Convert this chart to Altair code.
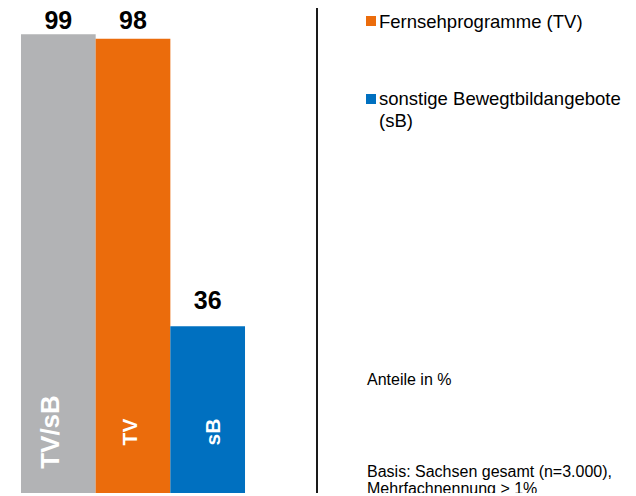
import altair as alt
import pandas as pd

categories = ["TV/sB", "TV", "sB"]
values = [99, 98, 36]
bar_colors = ["#B2B3B5", "#EB6C0C", "#0070C0"]

legend_labels = ["Fernsehprogramme (TV)", "sonstige Bewegtbildangebote\n(sB)"]
legend_colors = ["#EB6C0C", "#0070C0"]
note_unit = "Anteile in %"
note_basis = "Basis: Sachsen gesamt (n=3.000),\nMehrfachnennung > 1%"

FONT = "Liberation Sans, Arial, sans-serif"

df = pd.DataFrame({"cat": categories, "val": values, "color": bar_colors})

xscale = alt.Scale(domain=categories, range=[13, 237], paddingInner=0, paddingOuter=0)
yscale = alt.Scale(domain=[0, 104.64], nice=False, zero=True)

base = alt.Chart(df).encode(
    x=alt.X("cat:N", sort=categories, scale=xscale, axis=None),
)

bars = base.mark_bar(size=74.7).encode(
    y=alt.Y("val:Q", scale=yscale, axis=None),
    color=alt.Color("color:N", scale=None),
)

vals = base.transform_calculate(
    ly="min(datum.val + 3.7, 100.1)"
).mark_text(font=FONT, fontWeight="bold", fontSize=25, baseline="alphabetic", align="center", color="#000000").encode(
    y=alt.Y("ly:Q", scale=yscale, axis=None),
    text=alt.Text("val:Q"),
)


def inner(cat, size, shift):
    return base.transform_filter(alt.datum.cat == cat).mark_text(
        font=FONT, fontWeight="bold", fontSize=size, angle=270, align="center",
        baseline="middle", color="white", dy=shift
    ).encode(y=alt.value(424), text="cat:N")


inner_labels = [inner("TV/sB", 26, -7), inner("TV", 21, -2), inner("sB", 21, 6)]

divider = alt.Chart(df.head(1)).mark_rule(color="#1a1a1a", strokeWidth=2).encode(
    x=alt.value(309), y=alt.value(-10), y2=alt.value(500)
)

leg_df = pd.DataFrame({"label": legend_labels, "color": legend_colors, "i": [0, 1]})

leg_sq = alt.Chart(leg_df).mark_square(size=100, opacity=1).encode(
    x=alt.value(363),
    y=alt.Y("i:Q", scale=alt.Scale(domain=[0, 1], range=[13, 91], zero=False, nice=False), axis=None),
    color=alt.Color("color:N", scale=None),
)

leg_txt = alt.Chart(leg_df).mark_text(
    font=FONT, fontSize=18.5, align="left", baseline="alphabetic", lineBreak="\n", lineHeight=22, color="#000000"
).encode(
    x=alt.value(371),
    y=alt.Y("i:Q", scale=alt.Scale(domain=[0, 1], range=[20, 97], zero=False, nice=False), axis=None),
    text="label:N",
)

notes_df = pd.DataFrame({"t": [note_unit, note_basis], "j": [0, 1]})
notes = alt.Chart(notes_df).mark_text(
    font=FONT, fontSize=16, align="left", baseline="alphabetic", lineBreak="\n", lineHeight=17, color="#000000"
).encode(
    x=alt.value(359),
    y=alt.Y("j:Q", scale=alt.Scale(domain=[0, 1], range=[377, 469], zero=False, nice=False), axis=None),
    text="t:N",
)

chart = alt.layer(bars, vals, *inner_labels, divider, leg_sq, leg_txt, notes).resolve_scale(
    y="independent", x="independent", color="independent"
).properties(
    width=620, height=485, padding=0, autosize=alt.AutoSizeParams(type="none")
).configure_view(stroke=None)

chart.save("out.html", embed_options={"renderer": "svg", "actions": False})
